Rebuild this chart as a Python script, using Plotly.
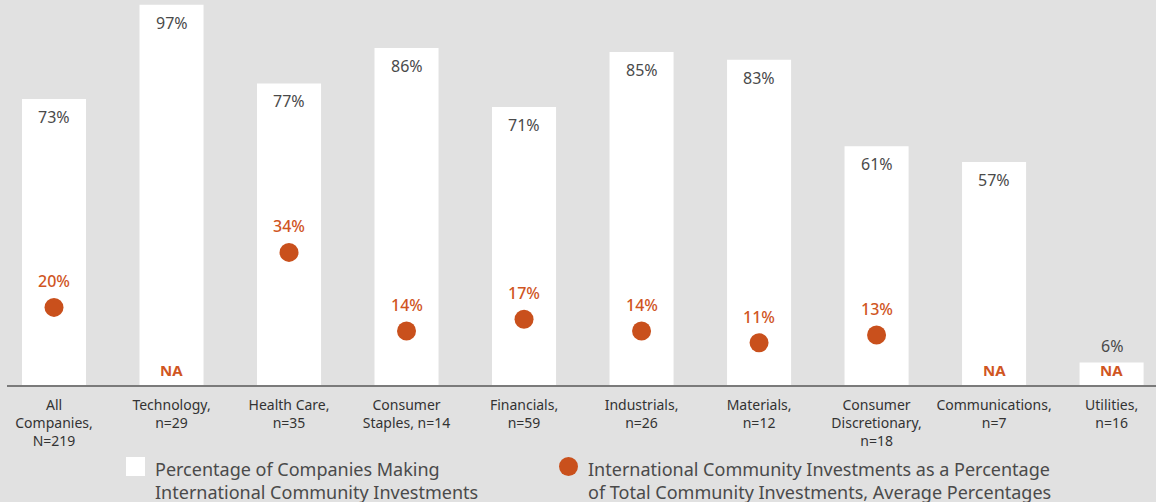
import plotly.graph_objects as go

# Sector categories (tick labels) and series values
categories = [
    "All<br>Companies,<br>N=219",
    "Technology,<br>n=29",
    "Health Care,<br>n=35",
    "Consumer<br>Staples, n=14",
    "Financials,<br>n=59",
    "Industrials,<br>n=26",
    "Materials,<br>n=12",
    "Consumer<br>Discretionary,<br>n=18",
    "Communications,<br>n=7",
    "Utilities,<br>n=16",
]
pct_companies = [73, 97, 77, 86, 71, 85, 83, 61, 57, 6]
pct_international = [20, None, 34, 14, 17, 14, 11, 13, None, None]

legend_bar = "Percentage of Companies Making<br>International Community Investments"
legend_dot = "International Community Investments as a Percentage<br>of Total Community Investments, Average Percentages"

BG = "#e1e1e1"
ORANGE = "#c9501c"
ORANGE_TXT = "#d0561f"
GREY_TXT = "#4a4a4a"
FONT = "Noto Sans"

W, H = 1156, 502
BASE = 386          # pixel row of the baseline
PX_PER_PCT = 3.93   # vertical scale of the value axis

fig = go.Figure()

fig.add_trace(go.Bar(
    x=categories, y=pct_companies,
    marker=dict(color="white", line=dict(width=0)),
    width=0.545, showlegend=False, hoverinfo="skip",
))

dot_x = [c for c, v in zip(categories, pct_international) if v is not None]
dot_y = [v for v in pct_international if v is not None]
fig.add_trace(go.Scatter(
    x=dot_x, y=dot_y, mode="markers",
    marker=dict(color=ORANGE, size=19, line=dict(width=0)),
    showlegend=False, hoverinfo="skip",
))

annotations = []
for c, v in zip(categories, pct_companies):
    # short bars get their label above the bar, the rest inside near the top
    shift = 16 if v < 10 else -18
    annotations.append(dict(
        x=c, y=v, xref="x", yref="y", text=f"{v}%", showarrow=False,
        yanchor="middle", yshift=shift,
        font=dict(family=FONT, size=16, color=GREY_TXT),
    ))
for c, v in zip(categories, pct_international):
    if v is None:
        annotations.append(dict(
            x=c, y=0, xref="x", yref="y", text="<b>NA</b>", showarrow=False,
            yanchor="middle", yshift=16,
            font=dict(family=FONT, size=15, color=ORANGE_TXT),
        ))
    else:
        annotations.append(dict(
            x=c, y=v, xref="x", yref="y", text=f"{v}%", showarrow=False,
            yanchor="middle", yshift=26,
            font=dict(family=FONT, size=16, color=ORANGE_TXT, weight=500),
        ))


def px(x):
    return x / W


def py(y):
    # paper y measured from the plot bottom (baseline)
    return (BASE - y) / BASE


# Legend entries
annotations.append(dict(
    x=px(153), y=py(455), xref="paper", yref="paper", text=legend_bar,
    showarrow=False, xanchor="left", yanchor="top", align="left",
    font=dict(family=FONT, size=18, color=GREY_TXT),
))
annotations.append(dict(
    x=px(586), y=py(455), xref="paper", yref="paper", text=legend_dot,
    showarrow=False, xanchor="left", yanchor="top", align="left",
    font=dict(family=FONT, size=18, color=GREY_TXT),
))

shapes = [
    dict(type="line", xref="paper", yref="paper", x0=px(7), x1=1, y0=0, y1=0,
         line=dict(color="#7a7a7a", width=2)),
    dict(type="rect", xref="paper", yref="paper",
         x0=px(126), x1=px(145), y0=py(457), y1=py(476),
         fillcolor="white", line=dict(width=0)),
    dict(type="circle", xref="paper", yref="paper",
         x0=px(559), x1=px(578), y0=py(457), y1=py(476),
         fillcolor=ORANGE, line=dict(width=0)),
]

fig.update_layout(
    width=W, height=H,
    margin=dict(l=0, r=0, t=0, b=H - BASE),
    paper_bgcolor=BG, plot_bgcolor=BG,
    xaxis=dict(
        range=[-0.4596, 9.378], showgrid=False, zeroline=False, showline=False,
        ticks="", ticklabelstandoff=9,
        tickfont=dict(family=FONT, size=14, color="#333333"),
        fixedrange=True,
    ),
    yaxis=dict(
        range=[0, BASE / PX_PER_PCT], visible=False, showgrid=False,
        zeroline=False, fixedrange=True,
    ),
    annotations=annotations,
    shapes=shapes,
    font=dict(family=FONT),
)

fig.write_html("out.html")
